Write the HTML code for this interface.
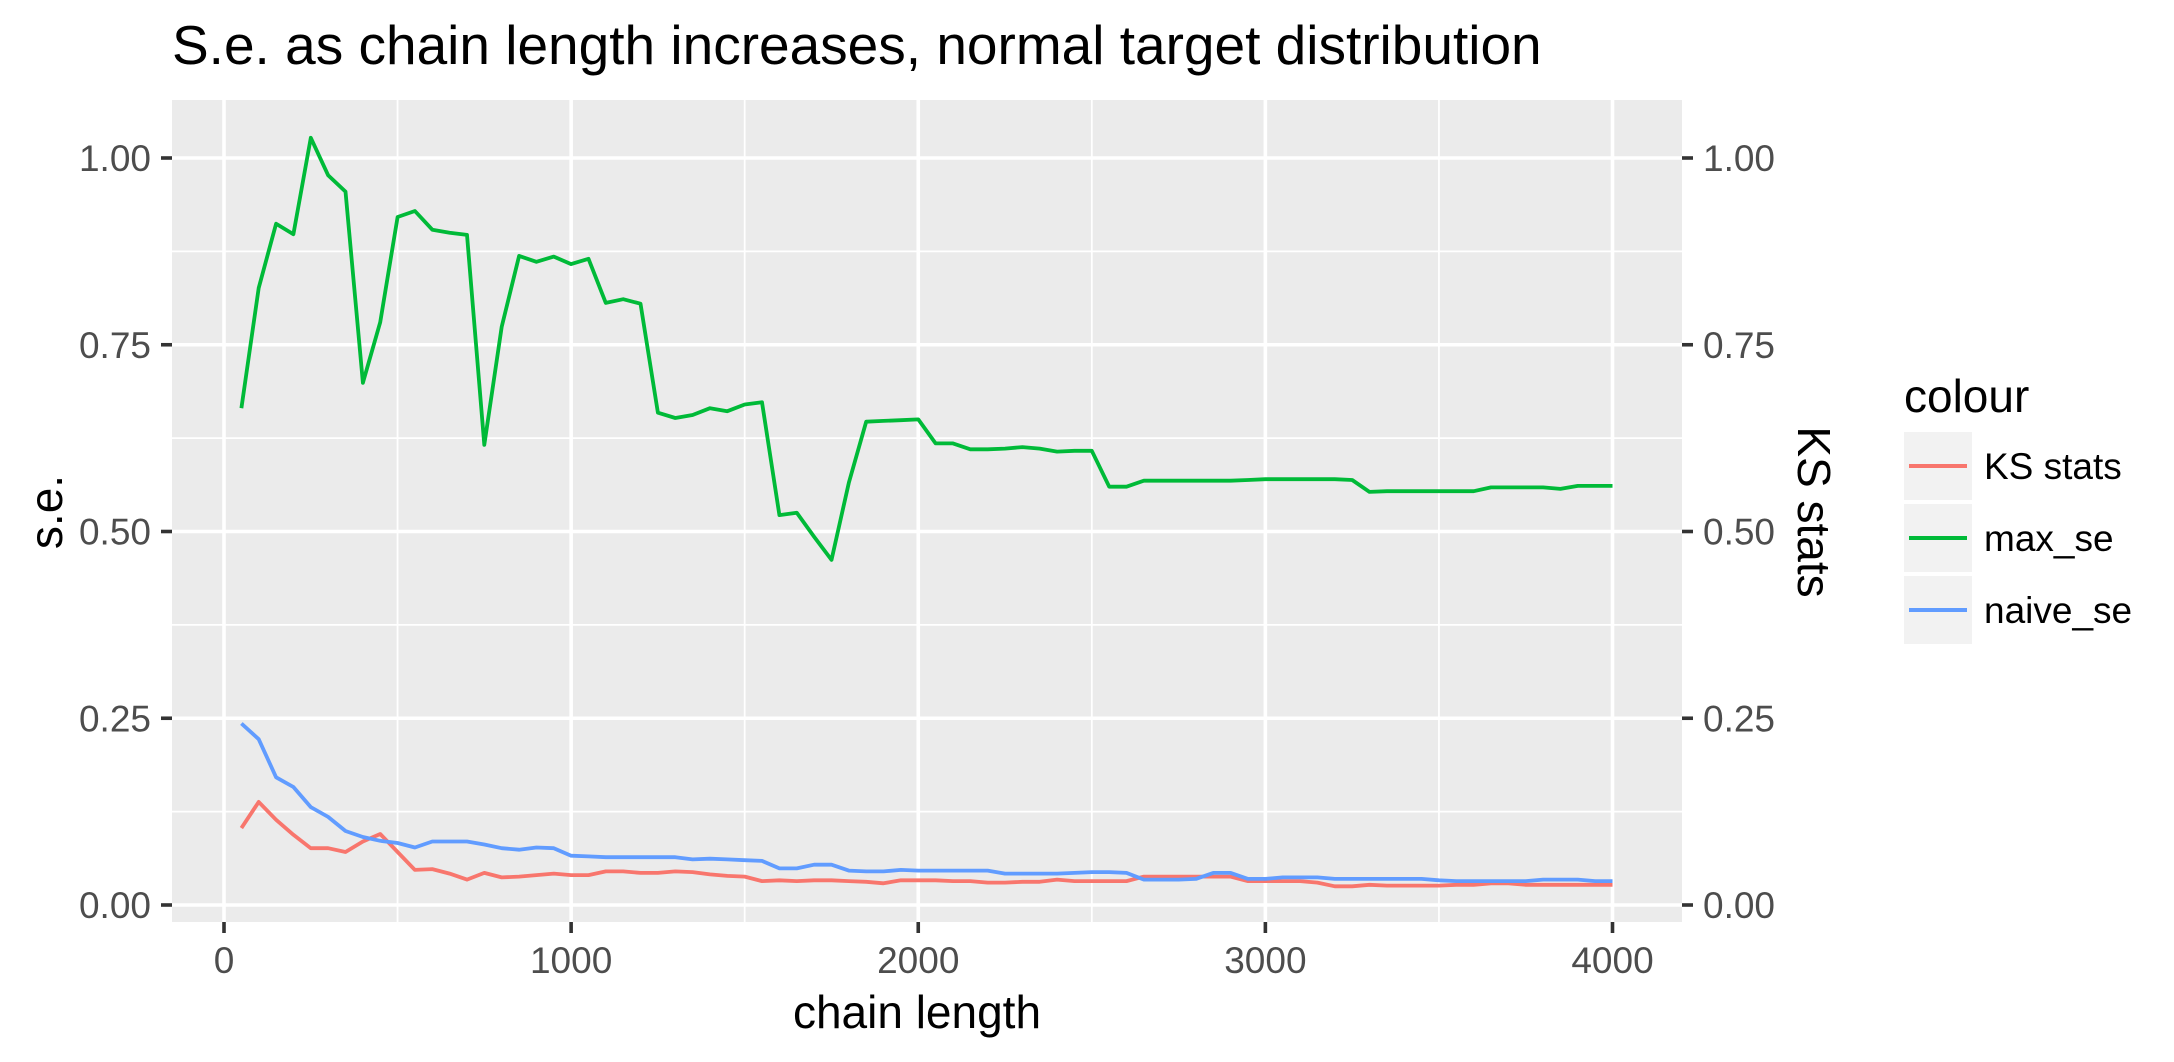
<!DOCTYPE html>
<html><head><meta charset="utf-8"><style>
html,body{margin:0;padding:0;background:#fff;}
svg{display:block;font-family:"Liberation Sans",Arial,sans-serif;}
</style></head><body>
<svg id="chart" width="2174" height="1062" viewBox="0 0 2174 1062">
<rect x="0" y="0" width="2174" height="1062" fill="#fff"/>
<text x="172" y="64" font-size="55" fill="#000">S.e. as chain length increases, normal target distribution</text>
<rect x="172" y="100" width="1510" height="822" fill="#EBEBEB"/>
<g id="grid"></g>
<g id="series"></g>
<g id="axes"></g>
<text x="917" y="1028" font-size="46" text-anchor="middle" fill="#000">chain length</text>
<text transform="translate(62,512) rotate(-90)" font-size="46" text-anchor="middle" fill="#000">s.e.</text>
<text transform="translate(1798,512) rotate(90)" font-size="46" text-anchor="middle" fill="#000">KS stats</text>
<g>
<text x="1904" y="412" font-size="46" fill="#000">colour</text>
<g>
<rect x="1904" y="432" width="68" height="68" fill="#F2F2F2"/>
<line x1="1909" y1="466" x2="1967" y2="466" stroke="#F8766D" stroke-width="4"/>
<text x="1984" y="479" font-size="37" fill="#000">KS stats</text>
</g>
<g>
<rect x="1904" y="504" width="68" height="68" fill="#F2F2F2"/>
<line x1="1909" y1="538" x2="1967" y2="538" stroke="#00BA38" stroke-width="4"/>
<text x="1984" y="551" font-size="37" fill="#000">max_se</text>
</g>
<g>
<rect x="1904" y="576" width="68" height="68" fill="#F2F2F2"/>
<line x1="1909" y1="610" x2="1967" y2="610" stroke="#619CFF" stroke-width="4"/>
<text x="1984" y="623" font-size="37" fill="#000">naive_se</text>
</g>
</g>
</svg>
<script>
const xTicks = [0, 1000, 2000, 3000, 4000];
const xMinor = [500, 1500, 2500, 3500];
const yTicks = [0, 0.25, 0.5, 0.75, 1.0];
const yTickLabels = ["0.00", "0.25", "0.50", "0.75", "1.00"];
const yMinor = [0.125, 0.375, 0.625, 0.875];
const chainLength = [50,100,150,200,250,300,350,400,450,500,550,600,650,700,750,800,850,900,950,1000,1050,1100,1150,1200,1250,1300,1350,1400,1450,1500,1550,1600,1650,1700,1750,1800,1850,1900,1950,2000,2050,2100,2150,2200,2250,2300,2350,2400,2450,2500,2550,2600,2650,2700,2750,2800,2850,2900,2950,3000,3050,3100,3150,3200,3250,3300,3350,3400,3450,3500,3550,3600,3650,3700,3750,3800,3850,3900,3950,4000];
const maxSe = [0.665,0.826,0.912,0.898,1.027,0.977,0.955,0.699,0.780,0.921,0.929,0.904,0.900,0.897,0.616,0.774,0.869,0.861,0.868,0.858,0.865,0.806,0.811,0.805,0.659,0.652,0.656,0.665,0.661,0.670,0.673,0.522,0.525,0.493,0.462,0.565,0.647,0.648,0.649,0.650,0.618,0.618,0.610,0.610,0.611,0.613,0.611,0.607,0.608,0.608,0.560,0.560,0.568,0.568,0.568,0.568,0.568,0.568,0.569,0.570,0.570,0.570,0.570,0.570,0.569,0.553,0.554,0.554,0.554,0.554,0.554,0.554,0.559,0.559,0.559,0.559,0.557,0.561,0.561,0.561];
const naiveSe = [0.243,0.222,0.171,0.158,0.131,0.118,0.099,0.091,0.086,0.083,0.077,0.085,0.085,0.085,0.081,0.076,0.074,0.077,0.076,0.066,0.065,0.064,0.064,0.064,0.064,0.064,0.061,0.062,0.061,0.060,0.059,0.049,0.049,0.054,0.054,0.046,0.045,0.045,0.047,0.046,0.046,0.046,0.046,0.046,0.042,0.042,0.042,0.042,0.043,0.044,0.044,0.043,0.034,0.034,0.034,0.035,0.043,0.043,0.035,0.035,0.037,0.037,0.037,0.035,0.035,0.035,0.035,0.035,0.035,0.033,0.032,0.032,0.032,0.032,0.032,0.034,0.034,0.034,0.032,0.032];
const ksStats = [0.103,0.138,0.114,0.094,0.076,0.076,0.071,0.085,0.095,0.071,0.047,0.048,0.042,0.034,0.043,0.037,0.038,0.040,0.042,0.040,0.040,0.045,0.045,0.043,0.043,0.045,0.044,0.041,0.039,0.038,0.032,0.033,0.032,0.033,0.033,0.032,0.031,0.029,0.033,0.033,0.033,0.032,0.032,0.030,0.030,0.031,0.031,0.034,0.032,0.032,0.032,0.032,0.038,0.038,0.038,0.038,0.038,0.038,0.032,0.032,0.032,0.032,0.030,0.025,0.025,0.027,0.026,0.026,0.026,0.026,0.027,0.027,0.029,0.029,0.027,0.027,0.027,0.027,0.027,0.027];

const NS = "http://www.w3.org/2000/svg";
const X0 = 224, X1 = 1612.5, Y0 = 905, Y1 = 158;
function xScale(v){ return X0 + (v/4000)*(X1-X0); }
function yScale(v){ return Y0 - v*(Y0-Y1); }
function mk(tag, attrs, parent){
  const e = document.createElementNS(NS, tag);
  for (const k in attrs) e.setAttribute(k, attrs[k]);
  parent.appendChild(e);
  return e;
}
const grid = document.getElementById('grid');
const axes = document.getElementById('axes');
const series = document.getElementById('series');

yMinor.forEach(v => {
  const l = mk('line', {x1:172, x2:1682, y1:yScale(v), y2:yScale(v), stroke:'#fff', 'stroke-width':1.8}, grid);
  
  
});
xMinor.forEach(v => {
  const l = mk('line', {x1:xScale(v), x2:xScale(v), y1:100, y2:922, stroke:'#fff', 'stroke-width':1.8}, grid);
  
  
});
yTicks.forEach((v,i) => {
  const y = yScale(v);
  const l = mk('line', {x1:172, x2:1682, y1:y, y2:y, stroke:'#fff', 'stroke-width':3.6}, grid);
  
  
  const t = mk('line', {x1:161, x2:172, y1:y, y2:y, stroke:'#333', 'stroke-width':3.6}, axes);
  
  
  const lb = mk('text', {x:151, y:y+13, 'font-size':37, fill:'#4D4D4D', 'text-anchor':'end'}, axes);
  lb.textContent = yTickLabels[i];
  
  
  const t2 = mk('line', {x1:1682, x2:1693, y1:y, y2:y, stroke:'#333', 'stroke-width':3.6}, axes);
  
  
  const lb2 = mk('text', {x:1703, y:y+13, 'font-size':37, fill:'#4D4D4D'}, axes);
  lb2.textContent = yTickLabels[i];
  
  
});
xTicks.forEach(v => {
  const x = xScale(v);
  const l = mk('line', {x1:x, x2:x, y1:100, y2:922, stroke:'#fff', 'stroke-width':3.6}, grid);
  
  
  const t = mk('line', {x1:x, x2:x, y1:922, y2:933, stroke:'#333', 'stroke-width':3.6}, axes);
  
  
  const lb = mk('text', {x:x, y:973, 'font-size':37, fill:'#4D4D4D', 'text-anchor':'middle'}, axes);
  lb.textContent = String(v);
  
  
});

function drawLine(vals, color, name){
  const pts = vals.map((v,i) => xScale(chainLength[i]).toFixed(1) + ',' + yScale(v).toFixed(1)).join(' ');
  const p = mk('polyline', {points:pts, fill:'none', stroke:color, 'stroke-width':3.8, 'stroke-linejoin':'round'}, series);
  
  
}
drawLine(ksStats, '#F8766D', 'ks-stats-line');
drawLine(maxSe, '#00BA38', 'max-se-line');
drawLine(naiveSe, '#619CFF', 'naive-se-line');
</script>
</body></html>
